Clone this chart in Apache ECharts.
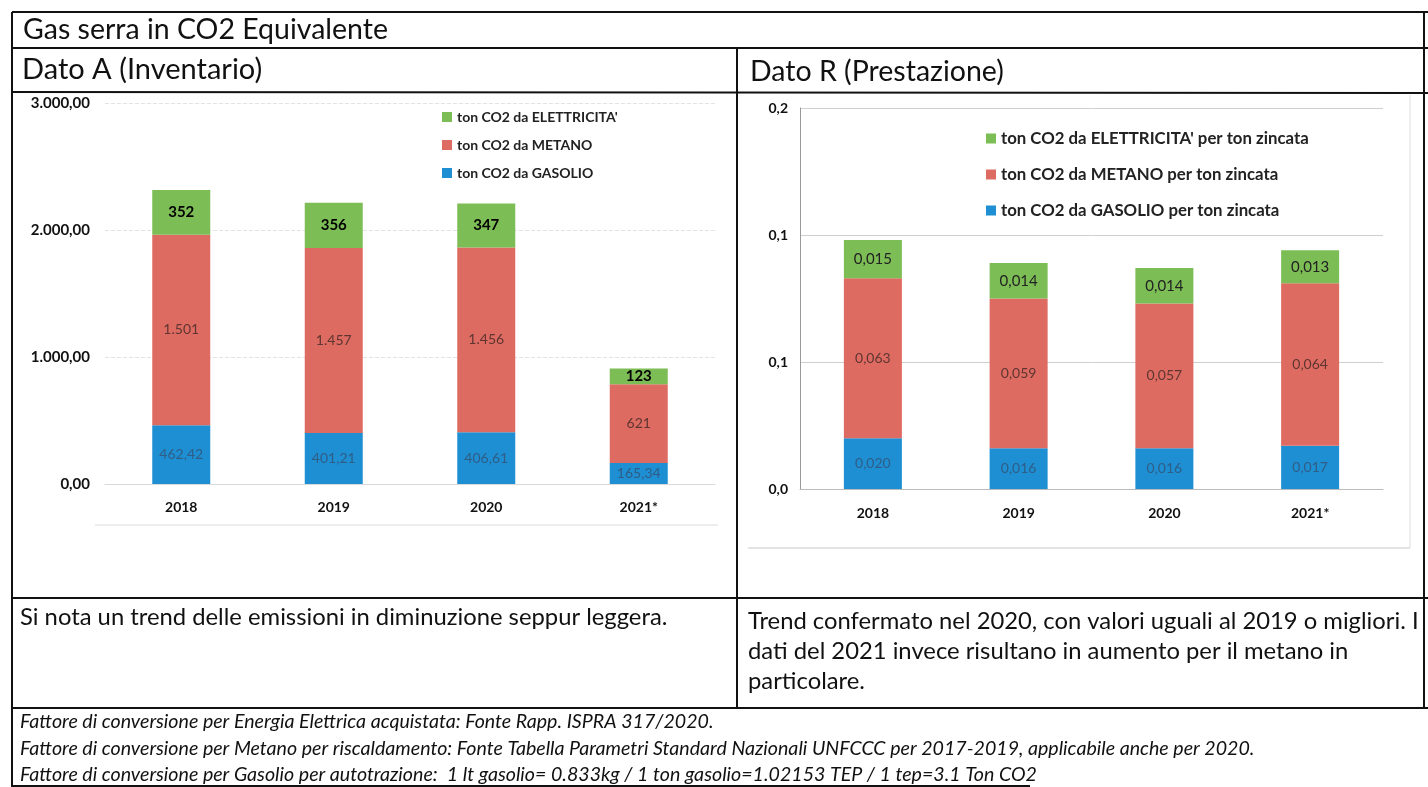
<!DOCTYPE html>
<html>
<head>
<meta charset="utf-8">
<script src="https://cdn.jsdelivr.net/npm/echarts@6/dist/echarts.min.js"></script>
<style>
html,body{margin:0;padding:0;background:#fff;}
#main{width:1428px;height:787px;}
</style>
</head>
<body>
<div id="main"></div>
<script>
// ---- Data ----
const categories = ['2018', '2019', '2020', '2021*'];

// Dato A (Inventario) - ton CO2
const invGasolio = [462.42, 401.21, 406.61, 165.34];
const invMetano = [1501, 1457, 1456, 621];
const invElettricita = [352, 356, 347, 123];

// Dato R (Prestazione) - ton CO2 per ton zincata
const prsGasolio = [0.020, 0.016, 0.016, 0.017];
const prsMetano = [0.063, 0.059, 0.057, 0.064];
const prsElettricita = [0.015, 0.014, 0.014, 0.013];

const invTickLabels = ['0,00', '1.000,00', '2.000,00', '3.000,00'];
const prsTickLabels = ['0,0', '0,1', '0,1', '0,2'];

const seriesNamesA = ["ton CO2 da GASOLIO", "ton CO2 da METANO", "ton CO2 da ELETTRICITA'"];
const seriesNamesR = ["ton CO2 da GASOLIO per ton zincata", "ton CO2 da METANO per ton zincata", "ton CO2 da ELETTRICITA' per ton zincata"];

const titleText = 'Gas serra in CO2 Equivalente';
const headA = 'Dato A (Inventario)';
const headR = 'Dato R (Prestazione)';
const noteA = 'Si nota un trend delle emissioni in diminuzione seppur leggera.';
const noteR = ['Trend confermato nel 2020, con valori uguali al 2019 o migliori. I',
               'dati del 2021 invece risultano in aumento per il metano in',
               'particolare.'];
const footnotes = [
  'Fattore di conversione per Energia Elettrica acquistata: Fonte Rapp. ISPRA 317/2020.',
  'Fattore di conversione per Metano per riscaldamento: Fonte Tabella Parametri Standard Nazionali UNFCCC per 2017-2019, applicabile anche per 2020.',
  'Fattore di conversione per Gasolio per autotrazione:  1 lt gasolio= 0.833kg / 1 ton gasolio=1.02153 TEP / 1 tep=3.1 Ton CO2'
];

// ---- Styles ----
const FONT = 'Lato, "Open Sans", sans-serif';
const cBlue = '#1f8fd3', cRed = '#de6b61', cGreen = '#7dbd55';

function itNum(v, dec) {
  const s = v.toFixed(dec);
  let [i, d] = s.split('.');
  i = i.replace(/\B(?=(\d{3})+(?!\d))/g, '.');
  return d !== undefined ? i + ',' + d : i;
}

function line(x1, y1, x2, y2, w, c) {
  return { type: 'line', silent: true, shape: { x1, y1, x2, y2 }, style: { stroke: c || '#111', lineWidth: w || 2 } };
}
function txt(x, y, t, font, fill) {
  return { type: 'text', silent: true, x: x, y: y,
    style: { text: t, font: font, fill: fill || '#111', textAlign: 'left', textVerticalAlign: 'middle', verticalAlign: 'middle' } };
}

const graphics = [
  line(12, 12, 1428, 12, 2),
  line(12, 12, 12, 787, 2),
  line(12, 48, 1428, 48, 2),
  line(12, 92, 1428, 93, 2),
  line(737, 48, 737, 708, 2),
  line(12, 598, 1428, 598, 2),
  line(12, 708, 1428, 708, 2),
  line(1424, 12, 1424, 708, 2),
  line(12, 786, 1030, 786, 2),
  // faint chart-area frames
  line(95, 525, 718, 525, 1, '#dcdcdc'),
  line(748, 548, 1410, 548, 1, '#c8c8c8'),
  line(1410, 95, 1410, 548, 1, '#dddddd'),
  txt(23, 30, titleText, '28.5px ' + FONT),
  txt(22, 70, headA, '29px ' + FONT),
  txt(750, 72, headR, '28.5px ' + FONT),
  txt(20, 617, noteA, '23.8px ' + FONT),
  txt(748, 621, noteR[0], '23.8px ' + FONT),
  txt(748, 651, noteR[1], '23.8px ' + FONT),
  txt(748, 681, noteR[2], '23.8px ' + FONT),
  txt(20, 722, footnotes[0], 'italic 19.6px ' + FONT),
  txt(20, 749, footnotes[1], 'italic 19.6px ' + FONT),
  txt(20, 775, footnotes[2], 'italic 19.6px ' + FONT)
];

function mkSeries(name, data, color, xi, labelColor, labelFmt, labelFont) {
  return {
    name: name, type: 'bar', stack: 's' + xi, xAxisIndex: xi, yAxisIndex: xi,
    data: data, barWidth: 58,
    itemStyle: { color: color },
    label: { show: true, position: 'inside', color: labelColor, fontFamily: FONT,
      fontSize: labelFont.size, fontWeight: labelFont.weight,
      formatter: p => labelFmt(p.value) },
    emphasis: { disabled: true }
  };
}

const option = {
  animation: false,
  backgroundColor: '#fff',
  textStyle: { fontFamily: FONT },
  graphic: graphics,
  grid: [
    { left: 105, top: 103, width: 610, height: 381 },
    { left: 800, top: 108, width: 583, height: 381 }
  ],
  legend: [
    { orient: 'vertical', left: 437, top: 105, itemWidth: 10, itemHeight: 10, itemGap: 14,
      icon: 'rect', selectedMode: false,
      data: [seriesNamesA[2], seriesNamesA[1], seriesNamesA[0]],
      textStyle: { fontFamily: FONT, fontSize: 14, fontWeight: 'bold', color: '#222' } },
    { orient: 'vertical', left: 981, top: 125, itemWidth: 10, itemHeight: 10, itemGap: 19,
      icon: 'rect', selectedMode: false,
      data: [seriesNamesR[2], seriesNamesR[1], seriesNamesR[0]],
      textStyle: { fontFamily: FONT, fontSize: 16.8, fontWeight: 'bold', color: '#222' } }
  ],
  xAxis: [
    { type: 'category', gridIndex: 0, data: categories,
      axisLine: { show: true, lineStyle: { color: '#d9d9d9' } }, axisTick: { show: false },
      axisLabel: { margin: 16, color: '#111', fontSize: 14, fontWeight: 'bold', fontFamily: FONT } },
    { type: 'category', gridIndex: 1, data: categories,
      axisLine: { show: true, lineStyle: { color: '#bbbbbb' } }, axisTick: { show: false },
      axisLabel: { margin: 17, color: '#111', fontSize: 14, fontWeight: 'bold', fontFamily: FONT } }
  ],
  yAxis: [
    { type: 'value', gridIndex: 0, min: 0, max: 3000, interval: 1000,
      axisLine: { show: false }, axisTick: { show: false },
      splitLine: { lineStyle: { color: '#e3e3e3', type: 'dashed' } },
      axisLabel: { margin: 15, color: '#111', fontSize: 15, fontWeight: 'bold', fontFamily: FONT,
        formatter: v => invTickLabels[Math.round(v / 1000)] } },
    { type: 'value', gridIndex: 1, min: 0, max: 0.15, interval: 0.05,
      axisLine: { show: true, lineStyle: { color: '#999' } }, axisTick: { show: false },
      splitLine: { lineStyle: { color: '#cfcfcf' } },
      axisLabel: { margin: 12, color: '#111', fontSize: 14, fontWeight: 'bold', fontFamily: FONT,
        formatter: v => prsTickLabels[Math.round(v / 0.05)] } }
  ],
  series: [
    mkSeries(seriesNamesA[0], invGasolio, cBlue, 0, '#2f5d86', v => itNum(v, 2), { size: 14, weight: 'normal' }),
    mkSeries(seriesNamesA[1], invMetano, cRed, 0, '#5e3531', v => itNum(v, 0), { size: 14, weight: 'normal' }),
    mkSeries(seriesNamesA[2], invElettricita, cGreen, 0, '#000', v => itNum(v, 0), { size: 15, weight: 'bold' }),
    mkSeries(seriesNamesR[0], prsGasolio, cBlue, 1, '#2f5d86', v => itNum(v, 3), { size: 14, weight: 'normal' }),
    mkSeries(seriesNamesR[1], prsMetano, cRed, 1, '#5e3531', v => itNum(v, 3), { size: 14, weight: 'normal' }),
    mkSeries(seriesNamesR[2], prsElettricita, cGreen, 1, '#222', v => itNum(v, 3), { size: 15, weight: 'normal' })
  ]
};

const chart = echarts.init(document.getElementById('main'), null, { renderer: 'canvas' });
chart.setOption(option);
</script>
</body>
</html>
